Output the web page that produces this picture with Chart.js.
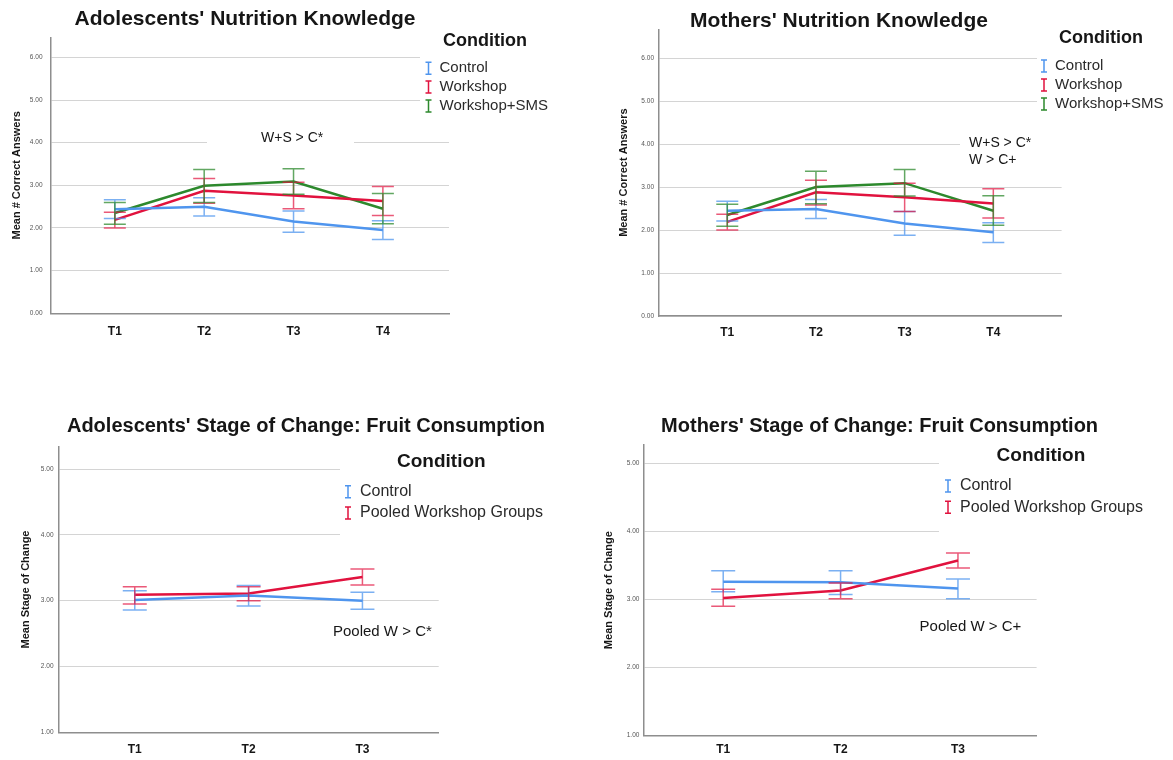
<!DOCTYPE html>
<html>
<head>
<meta charset="utf-8">
<script src="https://cdn.jsdelivr.net/npm/chart.js@4.4.1/dist/chart.umd.min.js"></script>
<style>
    html, body { margin: 0; padding: 0; background: #fff; }
    body { width: 1173px; height: 760px; position: relative; overflow: hidden; }
    canvas { position: absolute; }
</style>
</head>
<body>
<canvas id="adoKnow" width="590" height="345" style="left:0;top:0"></canvas>
<canvas id="momKnow" width="583" height="345" style="left:590px;top:0"></canvas>
<canvas id="adoStage" width="590" height="360" style="left:0;top:400px"></canvas>
<canvas id="momStage" width="583" height="360" style="left:590px;top:400px"></canvas>
<script>
// time points
const knowTimes = ['T1', 'T2', 'T3', 'T4'];
const stageTimes = ['T1', 'T2', 'T3'];

// Adolescents' nutrition knowledge (mean + error bar ends)
const adoKnowControl = [2.44, 2.50, 2.15, 1.95];
const adoKnowControlLo = [2.22, 2.28, 1.90, 1.73];
const adoKnowControlHi = [2.66, 2.71, 2.40, 2.17];
const adoKnowWorkshop = [2.19, 2.87, 2.76, 2.63];
const adoKnowWorkshopLo = [2.00, 2.58, 2.45, 2.29];
const adoKnowWorkshopHi = [2.37, 3.16, 3.07, 2.97];
const adoKnowSms = [2.35, 2.99, 3.09, 2.45];
const adoKnowSmsLo = [2.09, 2.60, 2.79, 2.10];
const adoKnowSmsHi = [2.60, 3.37, 3.39, 2.81];

// Mothers' nutrition knowledge
const momKnowControl = [2.45, 2.49, 2.15, 1.95];
const momKnowControlLo = [2.21, 2.27, 1.88, 1.71];
const momKnowControlHi = [2.67, 2.71, 2.43, 2.17];
const momKnowWorkshop = [2.19, 2.88, 2.76, 2.62];
const momKnowWorkshopLo = [2.00, 2.58, 2.43, 2.28];
const momKnowWorkshopHi = [2.37, 3.16, 3.09, 2.96];
const momKnowSms = [2.35, 3.00, 3.09, 2.45];
const momKnowSmsLo = [2.09, 2.61, 2.79, 2.11];
const momKnowSmsHi = [2.60, 3.37, 3.41, 2.80];

// Adolescents' stage of change
const adoStageControl = [3.01, 3.08, 3.00];
const adoStageControlLo = [2.86, 2.92, 2.87];
const adoStageControlHi = [3.15, 3.23, 3.13];
const adoStagePooled = [3.09, 3.11, 3.36];
const adoStagePooledLo = [2.95, 3.00, 3.24];
const adoStagePooledHi = [3.21, 3.21, 3.48];

// Mothers' stage of change
const momStageControl = [3.26, 3.25, 3.16];
const momStageControlLo = [3.11, 3.07, 3.01];
const momStageControlHi = [3.42, 3.42, 3.30];
const momStagePooled = [3.02, 3.13, 3.57];
const momStagePooledLo = [2.90, 3.01, 3.46];
const momStagePooledHi = [3.15, 3.24, 3.68];

const FONT = '"Liberation Sans", Arial, Helvetica, sans-serif';
const BLUE = '#4f95ee';
const RED = '#e1123e';
const GREEN = '#2d892d';
const BLUE_BAR = 'rgba(79,149,238,0.75)';
const RED_BAR = 'rgba(225,18,62,0.7)';
const GREEN_BAR = 'rgba(45,137,45,0.75)';
const INK = '#161616';

function series(label, color, barColor, values, lo, hi) {
    return {
        label: label,
        data: values.map((v, i) => ({ x: i, y: v })),
        borderColor: color,
        backgroundColor: color,
        borderWidth: 2.5,
        pointRadius: 0,
        tension: 0,
        errLo: lo,
        errHi: hi,
        barColor: barColor
    };
}

// title, legend, notes and error bars drawn on top of the chart
function decor(d) {
    return {
        id: 'decor',
        beforeDatasetsDraw(chart) {
            // white boxes behind legend / notes cut the grid lines like in SPSS
            const ctx = chart.ctx;
            ctx.save();
            ctx.fillStyle = '#fff';
            d.masks.forEach(m => ctx.fillRect(m[0], m[1], m[2], m[3]));
            ctx.restore();
        },
        afterDatasetsDraw(chart) {
            const ctx = chart.ctx;
            const xs = chart.scales.x;
            const ys = chart.scales.y;
            const w = d.cap / 2;
            ctx.save();
            ctx.lineWidth = 1.5;
            chart.data.datasets.forEach(ds => {
                ctx.strokeStyle = ds.barColor;
                ds.errLo.forEach((lo, i) => {
                    const x = xs.getPixelForValue(i);
                    const y1 = ys.getPixelForValue(lo);
                    const y2 = ys.getPixelForValue(ds.errHi[i]);
                    ctx.beginPath();
                    ctx.moveTo(x, y1); ctx.lineTo(x, y2);
                    ctx.moveTo(x - w, y1); ctx.lineTo(x + w, y1);
                    ctx.moveTo(x - w, y2); ctx.lineTo(x + w, y2);
                    ctx.stroke();
                });
            });
            ctx.restore();
        },
        afterDraw(chart) {
            const ctx = chart.ctx;
            ctx.save();
            ctx.fillStyle = INK;
            ctx.textBaseline = 'middle';

            ctx.textAlign = 'center';
            ctx.font = 'bold ' + d.title.size + 'px ' + FONT;
            ctx.fillText(d.title.text, d.title.x, d.title.y);

            const lg = d.legend;
            ctx.textAlign = 'left';
            ctx.font = 'bold ' + lg.size + 'px ' + FONT;
            ctx.fillText('Condition', lg.x, lg.y);

            ctx.font = lg.rowSize + 'px ' + FONT;
            chart.data.datasets.forEach((ds, i) => {
                const y = lg.rowY + i * lg.rowGap;
                ctx.strokeStyle = ds.borderColor;
                ctx.lineWidth = 1.5;
                ctx.beginPath();
                ctx.moveTo(lg.symX, y - 6); ctx.lineTo(lg.symX, y + 6);
                ctx.moveTo(lg.symX - 3, y - 6); ctx.lineTo(lg.symX + 3, y - 6);
                ctx.moveTo(lg.symX - 3, y + 6); ctx.lineTo(lg.symX + 3, y + 6);
                ctx.stroke();
                ctx.fillStyle = '#2a2a2a';
                ctx.fillText(ds.label, lg.textX, y);
            });

            ctx.fillStyle = INK;
            d.notes.forEach(n => {
                ctx.font = n.size + 'px ' + FONT;
                ctx.fillText(n.text, n.x, n.y);
            });
            ctx.restore();
        }
    };
}

function makePanel(id, p) {
    return new Chart(document.getElementById(id), {
        type: 'line',
        data: { datasets: p.datasets },
        options: {
            responsive: false,
            animation: false,
            devicePixelRatio: 1,
            layout: { padding: p.pad },
            plugins: {
                legend: { display: false },
                title: { display: false },
                tooltip: { enabled: false }
            },
            scales: {
                x: {
                    type: 'linear',
                    position: 'bottom',
                    min: p.xMin,
                    max: p.xMax,
                    afterFit: s => { s.height = p.xHeight; },
                    grid: { display: false, drawTicks: false },
                    border: { display: true, color: '#8e8e8e', width: 1.5 },
                    ticks: {
                        stepSize: 1,
                        includeBounds: false,
                        autoSkip: false,
                        maxRotation: 0,
                        padding: p.xTickPad,
                        color: INK,
                        font: { family: FONT, size: 12, weight: 'bold' },
                        callback: v => p.labels[v] ?? ''
                    }
                },
                y: {
                    min: p.yMin,
                    max: p.yMax,
                    afterFit: s => { s.width = p.yWidth; },
                    grid: { color: '#d4d4d4', lineWidth: 1, drawTicks: false },
                    border: { display: true, color: '#8e8e8e', width: 1.5 },
                    ticks: {
                        stepSize: 1,
                        includeBounds: false,
                        padding: p.yTickPad,
                        color: '#555',
                        font: { family: FONT, size: 6.5 },
                        callback: v => v.toFixed(2)
                    },
                    title: {
                        display: true,
                        text: p.yTitle,
                        color: INK,
                        font: { family: FONT, size: 11, weight: 'bold' },
                        padding: { top: p.yTitlePad, bottom: 0 }
                    }
                }
            }
        },
        plugins: [decor(p.decor)]
    });
}

makePanel('adoKnow', {
    labels: knowTimes,
    datasets: [
        series('Control', BLUE, BLUE_BAR, adoKnowControl, adoKnowControlLo, adoKnowControlHi),
        series('Workshop', RED, RED_BAR, adoKnowWorkshop, adoKnowWorkshopLo, adoKnowWorkshopHi),
        series('Workshop+SMS', GREEN, GREEN_BAR, adoKnowSms, adoKnowSmsLo, adoKnowSmsHi)
    ],
    yMin: 0, yMax: 6.47, xMin: -0.72, xMax: 3.74,
    yTitle: 'Mean # Correct Answers',
    pad: { left: 0, right: 141, top: 37.3, bottom: 1.7 },
    yWidth: 50.5, xHeight: 30, yTitlePad: 10.4, yTickPad: 8, xTickPad: 11,
    decor: {
        cap: 22,
        masks: [[420, 0, 170, 115], [207, 128, 147, 22]],
        title: { text: "Adolescents' Nutrition Knowledge", x: 245, y: 19, size: 21 },
        legend: { x: 443, y: 40.7, size: 18, symX: 428.5, textX: 439.5, rowY: 68.3, rowGap: 18.8, rowSize: 15 },
        notes: [{ text: 'W+S > C*', x: 261, y: 138, size: 14 }]
    }
});

makePanel('momKnow', {
    labels: knowTimes,
    datasets: [
        series('Control', BLUE, BLUE_BAR, momKnowControl, momKnowControlLo, momKnowControlHi),
        series('Workshop', RED, RED_BAR, momKnowWorkshop, momKnowWorkshopLo, momKnowWorkshopHi),
        series('Workshop+SMS', GREEN, GREEN_BAR, momKnowSms, momKnowSmsLo, momKnowSmsHi)
    ],
    yMin: 0, yMax: 6.67, xMin: -0.77, xMax: 3.77,
    yTitle: 'Mean # Correct Answers',
    pad: { left: 0, right: 111.4, top: 29.3, bottom: 1 },
    yWidth: 69, xHeight: 28, yTitlePad: 27.8, yTickPad: 5, xTickPad: 9.5,
    decor: {
        cap: 22,
        masks: [[447, 0, 136, 115], [370, 125, 213, 47]],
        title: { text: "Mothers' Nutrition Knowledge", x: 249, y: 21.7, size: 21 },
        legend: { x: 469, y: 37.7, size: 18, symX: 454, textX: 465, rowY: 66, rowGap: 19, rowSize: 15 },
        notes: [
            { text: 'W+S > C*', x: 379, y: 143, size: 14 },
            { text: 'W > C+', x: 379, y: 160, size: 14 }
        ]
    }
});

makePanel('adoStage', {
    labels: stageTimes,
    datasets: [
        series('Control', BLUE, BLUE_BAR, adoStageControl, adoStageControlLo, adoStageControlHi),
        series('Pooled Workshop Groups', RED, RED_BAR, adoStagePooled, adoStagePooledLo, adoStagePooledHi)
    ],
    yMin: 1, yMax: 5.34, xMin: -0.67, xMax: 2.67,
    yTitle: 'Mean Stage of Change',
    pad: { left: 0, right: 151.3, top: 46.7, bottom: 1.7 },
    yWidth: 58.5, xHeight: 26, yTitlePad: 19, yTickPad: 5, xTickPad: 9.8,
    decor: {
        cap: 24,
        masks: [[340, 0, 250, 145]],
        title: { text: "Adolescents' Stage of Change: Fruit Consumption", x: 306, y: 26.7, size: 20 },
        legend: { x: 397, y: 61.7, size: 19, symX: 348, textX: 360, rowY: 91.7, rowGap: 21.3, rowSize: 16 },
        notes: [{ text: 'Pooled W > C*', x: 333, y: 231.7, size: 15 }]
    }
});

makePanel('momStage', {
    labels: stageTimes,
    datasets: [
        series('Control', BLUE, BLUE_BAR, momStageControl, momStageControlLo, momStageControlHi),
        series('Pooled Workshop Groups', RED, RED_BAR, momStagePooled, momStagePooledLo, momStagePooledHi)
    ],
    yMin: 1, yMax: 5.27, xMin: -0.68, xMax: 2.67,
    yTitle: 'Mean Stage of Change',
    pad: { left: 0, right: 136.4, top: 45, bottom: 2.7 },
    yWidth: 53.4, xHeight: 22, yTitlePad: 12.8, yTickPad: 4, xTickPad: 7.5,
    decor: {
        cap: 24,
        masks: [[349, 0, 234, 145]],
        title: { text: "Mothers' Stage of Change: Fruit Consumption", x: 289.6, y: 26, size: 20 },
        legend: { x: 406.6, y: 56, size: 19, symX: 358, textX: 370, rowY: 86, rowGap: 21.3, rowSize: 16 },
        notes: [{ text: 'Pooled W > C+', x: 329.6, y: 227.3, size: 15 }]
    }
});
</script>
</body>
</html>
